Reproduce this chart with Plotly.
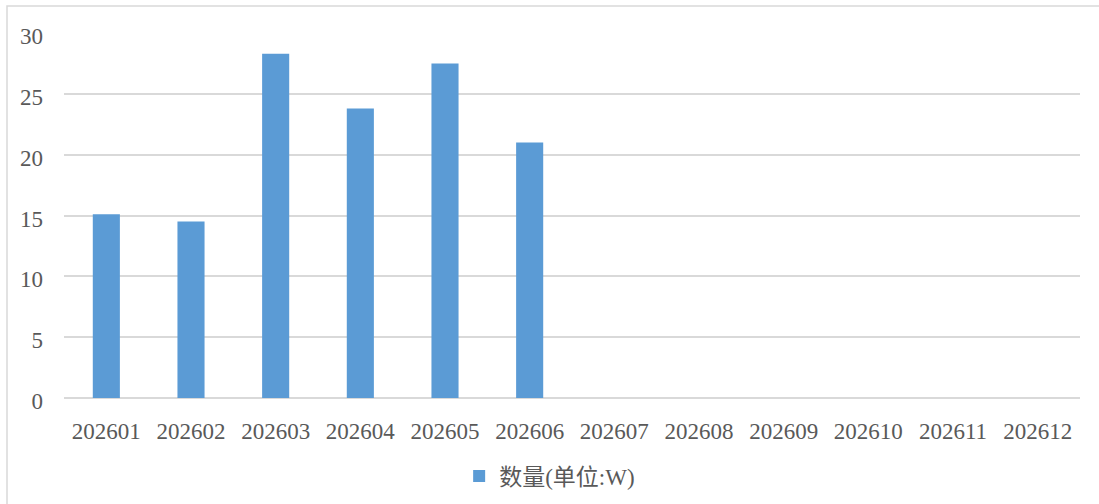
import plotly.graph_objects as go

categories = ["202601", "202602", "202603", "202604", "202605", "202606",
              "202607", "202608", "202609", "202610", "202611", "202612"]
values = [15.1, 14.5, 28.3, 23.8, 27.5, 21.0, None, None, None, None, None, None]
series_name = "数量(单位:W)"
y_ticks = [0, 5, 10, 15, 20, 25, 30]

FONT = "Liberation Serif, Times New Roman, Noto Sans CJK SC, serif"
GRAY = "#595959"

fig = go.Figure()
fig.add_trace(go.Bar(
    x=categories, y=values, name=series_name,
    marker=dict(color="#5b9bd5", line=dict(width=0)),
    showlegend=True,
))

fig.update_layout(
    width=1099, height=504,
    margin=dict(l=64, r=19, t=33, b=106, autoexpand=False),
    paper_bgcolor="white", plot_bgcolor="white",
    bargap=0.68,
    font=dict(family=FONT, color=GRAY, size=23),
    xaxis=dict(
        type="category", tickvals=categories, ticktext=categories,
        showgrid=False, showline=False, ticks="", ticklabelstandoff=17,
        automargin=False,
        tickfont=dict(size=23, color=GRAY, family=FONT),
    ),
    yaxis=dict(
        range=[0, 30], tickvals=y_ticks, showgrid=True, gridcolor="#d9d9d9",
        gridwidth=1.6, zeroline=True, zerolinecolor="#d9d9d9", zerolinewidth=1.6,
        showline=False, ticks="", ticklabelstandoff=20, ticklabelshift=3,
        automargin=False,
        tickfont=dict(size=23, color=GRAY, family=FONT),
    ),
    legend=dict(
        orientation="h", x=0.478, xanchor="center", y=-0.214, yanchor="middle",
        font=dict(size=23, color=GRAY, family="Liberation Serif, Noto Sans CJK SC, serif"),
        bgcolor="rgba(0,0,0,0)",
    ),
    shapes=[dict(
        type="rect", xref="paper", yref="paper",
        x0=(7 - 64) / 1016, x1=(1110 - 64) / 1016,
        y0=(398 - 520) / 365, y1=(398 - 6) / 365,
        line=dict(color="#d9d9d9", width=1.5), fillcolor="rgba(0,0,0,0)",
        layer="below",
    )],
)

fig.write_html("out.html", config={"displayModeBar": False},
               post_script="document.body.style.margin='0';")
